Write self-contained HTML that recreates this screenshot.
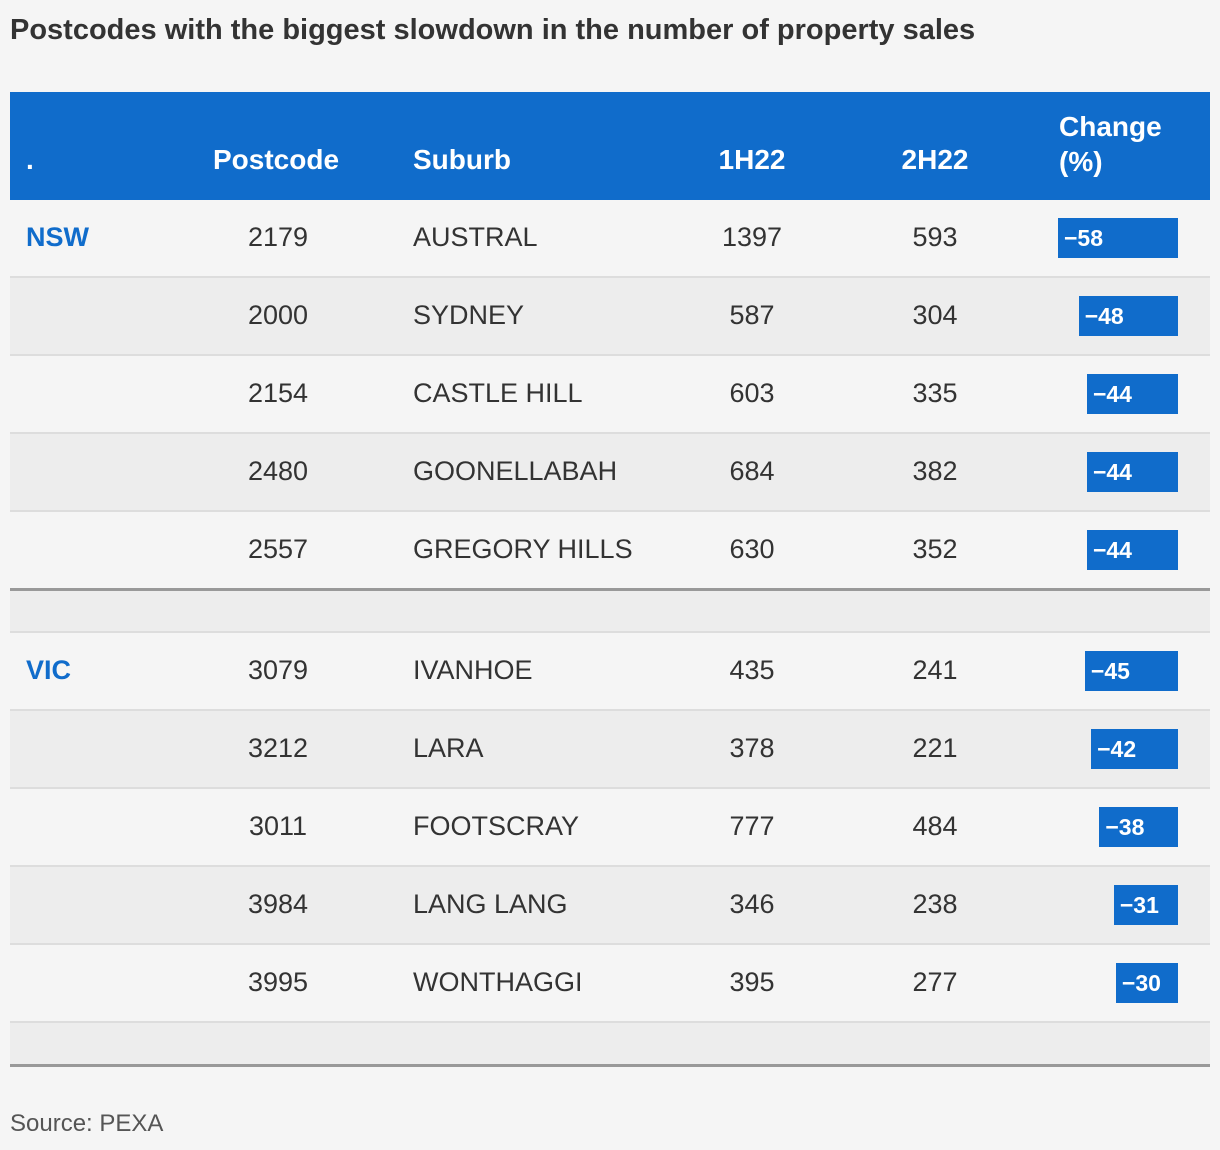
<!DOCTYPE html>
<html><head><meta charset="utf-8"><style>
body{margin:0;width:1220px;height:1150px;background:#f5f5f5;font-family:"Liberation Sans",sans-serif;position:relative;overflow:hidden;color:#333}
.a{position:absolute}
.t{font-size:27px;line-height:30px;white-space:nowrap}
.c{transform:translateX(-50%)}
</style></head><body>
<div class="a" style="left:10px;top:14px;font-size:29px;font-weight:bold;color:#333">Postcodes with the biggest slowdown in the number of property sales</div>
<div class="a" style="left:10px;top:92px;width:1200px;height:108px;background:#106ccb;color:#fff;font-weight:bold;font-size:28px">
<span class="a" style="left:16px;top:52px">.</span>
<span class="a" style="left:203px;top:52px">Postcode</span>
<span class="a" style="left:403px;top:52px">Suburb</span>
<span class="a" style="left:742px;top:52px;transform:translateX(-50%)">1H22</span>
<span class="a" style="left:925px;top:52px;transform:translateX(-50%)">2H22</span>
<span class="a" style="left:1049px;top:17px;line-height:35px">Change<br>(%)</span>
</div>
<div id="rows"></div>
<div class="a" style="left:10px;top:1110px;font-size:24px;color:#555">Source: PEXA</div>
<script>
const states=["NSW","","","","","VIC","","","",""];
const postcodes=["2179","2000","2154","2480","2557","3079","3212","3011","3984","3995"];
const suburbs=["AUSTRAL","SYDNEY","CASTLE HILL","GOONELLABAH","GREGORY HILLS","IVANHOE","LARA","FOOTSCRAY","LANG LANG","WONTHAGGI"];
const h1=[1397,587,603,684,630,435,378,777,346,395];
const h2=[593,304,335,382,352,241,221,484,238,277];
const change=[-58,-48,-44,-44,-44,-45,-42,-38,-31,-30];
const root=document.getElementById('rows');
function barW(v){return Math.abs(v)*120/58;}
function add(html){root.insertAdjacentHTML('beforeend',html);}
let y=200;
for(let i=0;i<postcodes.length;i++){
  if(i===5){
    add(`<div class="a" style="left:10px;top:588px;width:1200px;height:3px;background:#999"></div>`);
    add(`<div class="a" style="left:10px;top:591px;width:1200px;height:40px;background:#ededed;border-bottom:2px solid #ddd"></div>`);
    y=633;
  }
  const bg=(i%5)%2===0?'#f5f5f5':'#ededed';
  const cy=y+22;
  const w=barW(change[i]);
  add(`<div class="a" style="left:10px;top:${y}px;width:1200px;height:76px;background:${bg};border-bottom:2px solid #ddd">
  ${states[i]?`<span class="a t" style="left:16px;top:22px;color:#106ccb;font-weight:bold">${states[i]}</span>`:''}
  <span class="a t c" style="left:268px;top:22px">${postcodes[i]}</span>
  <span class="a t" style="left:403px;top:22px">${suburbs[i]}</span>
  <span class="a t c" style="left:742px;top:22px">${h1[i]}</span>
  <span class="a t c" style="left:925px;top:22px">${h2[i]}</span>
  <div class="a" style="left:${1168-w}px;top:18px;width:${w}px;height:40px;background:#106ccb;color:#fff;font-weight:bold;font-size:23px;line-height:40px;text-indent:6px;white-space:nowrap">\u2212${Math.abs(change[i])}</div>
  </div>`);
  y+=78;
}
add(`<div class="a" style="left:10px;top:1023px;width:1200px;height:41px;background:#ededed"></div>`);
add(`<div class="a" style="left:10px;top:1064px;width:1200px;height:3px;background:#999"></div>`);
</script>
</body></html>
